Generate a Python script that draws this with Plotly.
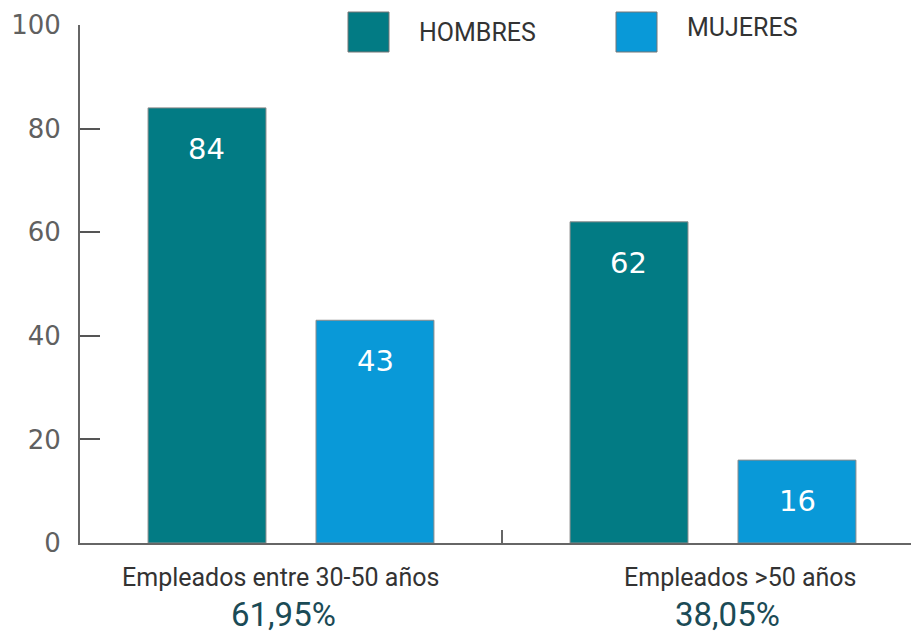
import plotly.graph_objects as go

categories = ["Empleados entre 30-50 años", "Empleados >50 años"]
percentages = ["61,95%", "38,05%"]
hombres = [84, 62]
mujeres = [43, 16]
series_names = ["HOMBRES", "MUJERES"]
y_ticks = [0, 20, 40, 60, 80, 100]

TEAL = "#027B84"
BLUE = "#0999D8"
W, H = 911, 633
L, R, T, B = 80, 0, 25, 90
PW, PH = W - L - R, H - T - B

def px(x):
    return (x - L) / PW

def py(y):
    return (H - B - y) / PH

xs = list(range(len(categories)))

fig = go.Figure()
for name, vals, col in [(series_names[0], hombres, TEAL), (series_names[1], mujeres, BLUE)]:
    fig.add_trace(go.Bar(
        x=xs, y=vals, name=name, marker=dict(color=col, line=dict(color="#8a8a8a", width=1)),
        showlegend=False, hoverinfo="y",
    ))

ann = []
# value labels inside bars
for i, vals in enumerate([hombres, mujeres]):
    off = -0.2 if i == 0 else 0.2
    for x, v in zip(xs, vals):
        ann.append(dict(x=x + off, y=v, xref="x", yref="y", text=str(v), showarrow=False,
                        yshift=-41, font=dict(family="DejaVu Sans", size=29, color="white")))
# category labels
lab_shift = [-11, 27]
pct_shift = [-8, 14]
for x, c, p, ls, ps in zip(xs, categories, percentages, lab_shift, pct_shift):
    ann.append(dict(x=x, y=py(577), xref="x", yref="paper", text=c, showarrow=False,
                    xshift=ls, yanchor="middle",
                    font=dict(family="Roboto", size=25, color="#333333")))
    ann.append(dict(x=x, y=py(614), xref="x", yref="paper", text=p, showarrow=False,
                    xshift=ps, yanchor="middle",
                    font=dict(family="Roboto", size=33, color="#1B4B56")))

# legend (custom)
shapes = []
leg = [(348, 417, 33, TEAL, series_names[0]), (616, 685, 28, BLUE, series_names[1])]
for sx, tx, ty, col, name in leg:
    shapes.append(dict(type="rect", xref="paper", yref="paper", x0=px(sx), x1=px(sx + 41),
                       y0=py(52), y1=py(12), fillcolor=col, line=dict(color="#777777", width=1)))
    ann.append(dict(x=px(tx), y=py(ty), xref="paper", yref="paper", text=name, showarrow=False,
                    xanchor="left", yanchor="middle",
                    font=dict(family="Roboto", size=25, color="#333333")))

# category boundary tick
shapes.append(dict(type="line", xref="x", yref="paper", x0=0.5, x1=0.5, y0=0, y1=13 / PH,
                   line=dict(color="#666666", width=2)))

fig.update_layout(
    width=W, height=H,
    margin=dict(l=L, r=R, t=T, b=B, pad=0),
    paper_bgcolor="white", plot_bgcolor="white",
    barmode="group", bargap=0.204, bargroupgap=0.298,
    annotations=ann, shapes=shapes,
    xaxis=dict(range=[-0.5, -0.5 + PW / 422], showticklabels=False, ticks="",
               showline=True, linecolor="#666666", linewidth=2, showgrid=False,
               zeroline=False, fixedrange=True),
    yaxis=dict(range=[0, 100], tickvals=y_ticks, ticks="inside", ticklen=20, tickwidth=2,
               tickcolor="#555555", showline=True, linecolor="#666666", linewidth=2,
               showgrid=False, zeroline=False, ticklabelstandoff=12,
               tickfont=dict(family="DejaVu Sans", size=26, color="#606060")),
)

fig.write_html("out.html", config={"displayModeBar": False},
               post_script="document.body.style.margin='0';document.body.style.padding='0';")
